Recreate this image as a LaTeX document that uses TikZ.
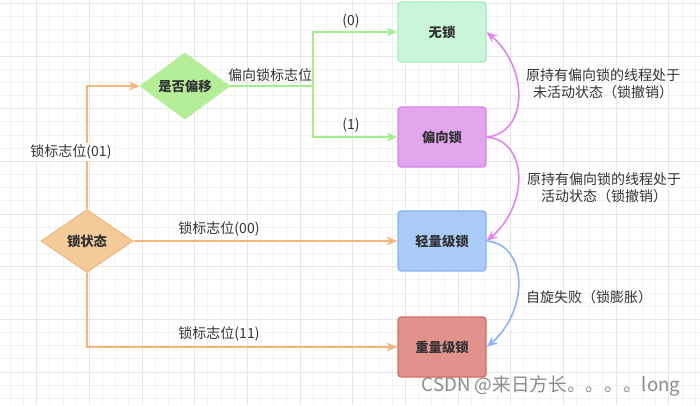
\documentclass[tikz,border=0pt]{standalone}
\usepackage{fontspec}
\setmainfont{Noto Sans CJK SC}
\usepackage{tikz}
\usetikzlibrary{arrows.meta,shapes.geometric,calc}
\definecolor{gridminor}{HTML}{F2F2F2}
\definecolor{gridmajor}{HTML}{E6E6E6}
\definecolor{textgray}{HTML}{333333}
\definecolor{nolockfill}{HTML}{C8F6D6}
\definecolor{nolockdraw}{HTML}{A6EDBE}
\definecolor{biasfill}{HTML}{E2A5EE}
\definecolor{biasdraw}{HTML}{D884EA}
\definecolor{lightfill}{HTML}{AACAF7}
\definecolor{lightdraw}{HTML}{86B3F3}
\definecolor{heavyfill}{HTML}{E2928C}
\definecolor{heavydraw}{HTML}{DA6C64}
\definecolor{askfill}{HTML}{B4EE98}
\definecolor{statefill}{HTML}{F5CA99}
\definecolor{statedraw}{HTML}{EDB87E}
\definecolor{orangeline}{HTML}{F4B67A}
\definecolor{greenline}{HTML}{A5EE8D}
\definecolor{pinkline}{HTML}{E483F1}
\definecolor{blueline}{HTML}{8CB5F7}

\begin{document}
\begin{tikzpicture}[x=0.75pt,y=-0.75pt,>={Stealth[length=8pt,width=6.5pt,inset=2.5pt]},
  lockbox/.style={draw,line width=1pt,rounded corners=2.5pt,minimum width=66pt,minimum height=45pt,
    font=\bfseries\fontsize{10}{12}\selectfont,text=textgray},
  decision/.style={diamond,draw,line width=0.8pt,inner sep=0pt,minimum width=67pt,minimum height=47pt,
    font=\bfseries\fontsize{10}{12}\selectfont,text=textgray},
  edgelabel/.style={font=\fontsize{10.5}{13}\selectfont,text=textgray,inner sep=1pt},
  link/.style={line width=1.2pt,->}]
  \useasboundingbox (0,0) rectangle (700,405);
  \fill[white] (0,0) rectangle (700,405);
  % Background grid
  \foreach \i in {0,...,53}
    \draw[gridminor,line width=0.7pt] ({10.3+13.17*\i},0) -- ({10.3+13.17*\i},405);
  \foreach \j in {0,...,30}
    \draw[gridminor,line width=0.7pt] (0,{3.3+13.17*\j}) -- (700,{3.3+13.17*\j});
  \foreach \i in {0,...,13}
    \draw[gridmajor,line width=0.7pt] ({36.64+52.68*\i},0) -- ({36.64+52.68*\i},405);
  \foreach \j in {0,...,7}
    \draw[gridmajor,line width=0.7pt] (0,{3.3+52.68*\j}) -- (700,{3.3+52.68*\j});
  % Lock states
  \node[lockbox,fill=nolockfill,draw=nolockdraw] (nolock) at (442,32) {无锁};
  \node[lockbox,fill=biasfill,draw=biasdraw] (biased) at (442,137) {偏向锁};
  \node[lockbox,fill=lightfill,draw=lightdraw] (light) at (442,241) {轻量级锁};
  \node[lockbox,fill=heavyfill,draw=heavydraw] (heavy) at (442,347) {重量级锁};
  % Decisions
  \node[decision,fill=askfill,draw=askfill] (isbias) at (185,86) {是否偏移};
  \node[decision,fill=statefill,draw=statedraw,minimum width=69pt] (state) at (87,241) {锁状态};
  % Orange branches
  \draw[link,orangeline] (state.north) |- (isbias.west);
  \draw[link,orangeline] (state.east) -- (light.west);
  \draw[link,orangeline] (state.south) |- (heavy.west);
  \node[edgelabel,fill=white] (lab01) at (71,152) {锁标志位(01)};
  \node[edgelabel] (lab00) at (219,229) {锁标志位(00)};
  \node[edgelabel] (lab11) at (219,334) {锁标志位(11)};
  % Green branches
  \coordinate (split) at (313,86);
  \draw[link,greenline] (isbias.east) -- (split) |- (nolock.west);
  \draw[link,greenline] (split) |- (biased.west);
  \node[edgelabel] (labbias) at (270,75) {偏向锁标志位};
  \node[edgelabel] (lab0) at (351,21) {(0)};
  \node[edgelabel] (lab1) at (351,125) {(1)};
  % Transitions
  \draw[link,pinkline] (biased.east) .. controls +(42,-4) and +(42,36) .. (nolock.east);
  \draw[link,pinkline] (biased.east) .. controls +(42,4) and +(42,-36) .. (light.east);
  \draw[link,blueline] (light.east) .. controls +(42,4) and +(42,-36) .. (heavy.east);
  \node[edgelabel,align=center] (labrevoke1) at (603,84) {原持有偏向锁的线程处于\\未活动状态（锁撤销）};
  \node[edgelabel,align=center] (labrevoke2) at (604,188) {原持有偏向锁的线程处于\\活动状态（锁撤销）};
  \node[edgelabel] (labinflate) at (589,297) {自旋失败（锁膨胀）};
  % Watermark
  \node[font=\fontsize{14}{16}\selectfont,text=black!45] (mark) at (551,386) {CSDN @来日方长。。。。long};
\end{tikzpicture}
\end{document}
